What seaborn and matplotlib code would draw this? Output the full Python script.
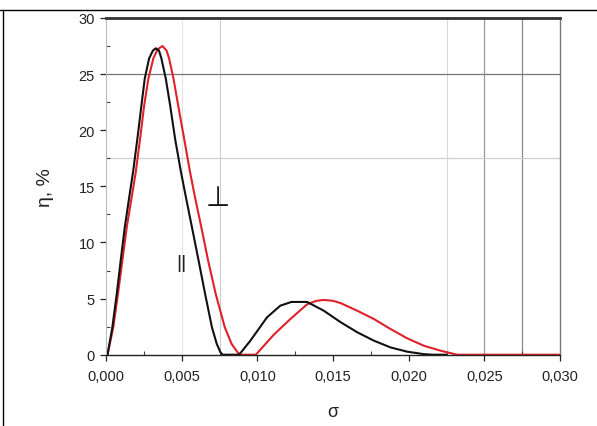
import matplotlib
matplotlib.use("Agg")
import matplotlib.pyplot as plt
import seaborn as sns
import pandas as pd
from matplotlib.lines import Line2D
from matplotlib.ticker import MultipleLocator, FuncFormatter

sns.set_theme(style="white")
plt.rcParams['font.family'] = ['Liberation Sans', 'DejaVu Sans']

# parallel (||) curve, black
par_x = [0.0001, 0.00042, 0.00071, 0.00097, 0.00124, 0.00152, 0.00179, 0.00207, 0.00234,
         0.00256, 0.00285, 0.0031, 0.00329, 0.0035, 0.00366, 0.00395, 0.00424, 0.00457,
         0.00495, 0.0053, 0.00568, 0.00612, 0.00655, 0.0070, 0.00732, 0.00755, 0.0077,
         0.0088, 0.00954, 0.01064, 0.01152, 0.01225, 0.01329, 0.01439, 0.0155, 0.0166,
         0.0177, 0.0188, 0.0199, 0.0210, 0.0216, 0.0225]
par_y = [0, 2.44, 5.41, 8.38, 11.35, 13.9, 16.3, 19.2, 22.2,
         24.6, 26.4, 27.1, 27.3, 27.1, 26.4, 24.6, 22.2, 19.2,
         16.3, 13.9, 11.35, 8.38, 5.41, 2.44, 0.96, 0.25, 0,
         0, 1.25, 3.33, 4.37, 4.7, 4.7, 3.92, 2.9, 2.0,
         1.25, 0.65, 0.27, 0.05, 0, 0]

# perpendicular (⊥) curve, red
perp_x = [0.0001, 0.00048, 0.00079, 0.00108, 0.00137, 0.00168, 0.00197, 0.00225, 0.00252,
          0.0028, 0.00313, 0.0034, 0.00373, 0.0040, 0.00417, 0.00446, 0.00477, 0.00517,
          0.00555, 0.0059, 0.0063, 0.00675, 0.00725, 0.00785, 0.0083, 0.0087, 0.0089,
          0.0099, 0.0111, 0.0122, 0.0133, 0.0139, 0.0144, 0.0150, 0.0155, 0.0166,
          0.0177, 0.0188, 0.0199, 0.0210, 0.0221, 0.0232, 0.0300]
perp_y = [0, 2.44, 5.41, 8.38, 11.35, 13.9, 16.3, 19.2, 22.2,
          24.6, 26.4, 27.2, 27.5, 27.1, 26.4, 24.6, 22.2, 19.2,
          16.3, 13.9, 11.35, 8.38, 5.41, 2.44, 0.96, 0.2, 0,
          0, 1.8, 3.2, 4.5, 4.8, 4.88, 4.8, 4.6, 3.92,
          3.18, 2.29, 1.46, 0.8, 0.36, 0, 0]

x_ticks = [0.000, 0.005, 0.010, 0.015, 0.020, 0.025, 0.030]
y_ticks = [0, 5, 10, 15, 20, 25, 30]

df_par = pd.DataFrame({"x": par_x, "y": par_y})
df_perp = pd.DataFrame({"x": perp_x, "y": perp_y})

fig = plt.figure(figsize=(5.97, 4.27), dpi=100)
ax = fig.add_axes([106/597, (427-355.7)/427, (560-106)/597, (355.7-19)/427])

# odd grid lines as in the scanned figure
for xv, c, lw in [(0.005, "#e4e4e4", 0.8), (0.0075, "#cccccc", 0.8), (0.0225, "#d8d8d8", 0.8),
                  (0.025, "#999999", 0.9), (0.0275, "#888888", 0.9)]:
    ax.axvline(xv, color=c, lw=lw, zorder=0)
ax.axhline(25, color="#777777", lw=0.9, zorder=0)
ax.axhline(17.5, color="#d0d0d0", lw=0.9, zorder=0)

sns.lineplot(data=df_perp, x="x", y="y", ax=ax, color="#e0202a", lw=1.5, sort=False)
sns.lineplot(data=df_par, x="x", y="y", ax=ax, color="#111111", lw=1.5, sort=False)

ax.set_xlim(0, 0.030)
ax.set_ylim(0, 30)
ax.set_xticks(x_ticks)
ax.set_yticks(y_ticks)
ax.xaxis.set_major_formatter(FuncFormatter(lambda v, p: f"{v:.3f}".replace(".", ",")))
ax.xaxis.set_minor_locator(MultipleLocator(0.0025))
ax.yaxis.set_minor_locator(MultipleLocator(2.5))
ax.tick_params(axis="both", which="major", direction="out", length=4, width=0.9,
               labelsize=10.5, colors="#222222", left=True, bottom=True)
ax.tick_params(axis="x", which="major", pad=6)
ax.tick_params(axis="y", which="major", pad=4)
ax.tick_params(axis="both", which="minor", direction="in", length=3, width=0.8,
               left=True, bottom=True, color="#444444")

for s in ["left", "right", "top", "bottom"]:
    ax.spines[s].set_visible(True)
ax.spines["left"].set_color("#bbbbbb")
ax.spines["left"].set_linewidth(0.8)
ax.spines["bottom"].set_color("#222222")
ax.spines["bottom"].set_linewidth(1.0)
ax.spines["top"].set_color("#333333")
ax.spines["top"].set_linewidth(2.0)
ax.spines["right"].set_color("#777777")
ax.spines["right"].set_linewidth(1.0)

ax.set_xlabel("σ", fontsize=13, color="#222222", labelpad=15)
ax.set_ylabel("η, %", fontsize=14, color="#222222", labelpad=18)

ax.text(0.0074, 13.3, "⊥", fontsize=20, color="#111111", ha="center", va="baseline",
        family="DejaVu Sans")
ax.text(0.0050, 8.2, "||", fontsize=14, color="#222222", ha="center", va="center")

# frame lines of the scanned page
fig.add_artist(Line2D([0, 1], [1 - 11/427, 1 - 11/427], color="black", lw=1.0))
fig.add_artist(Line2D([3/597, 3/597], [0, 1 - 11/427], color="black", lw=1.0))

fig.savefig("out.png", dpi=100)
